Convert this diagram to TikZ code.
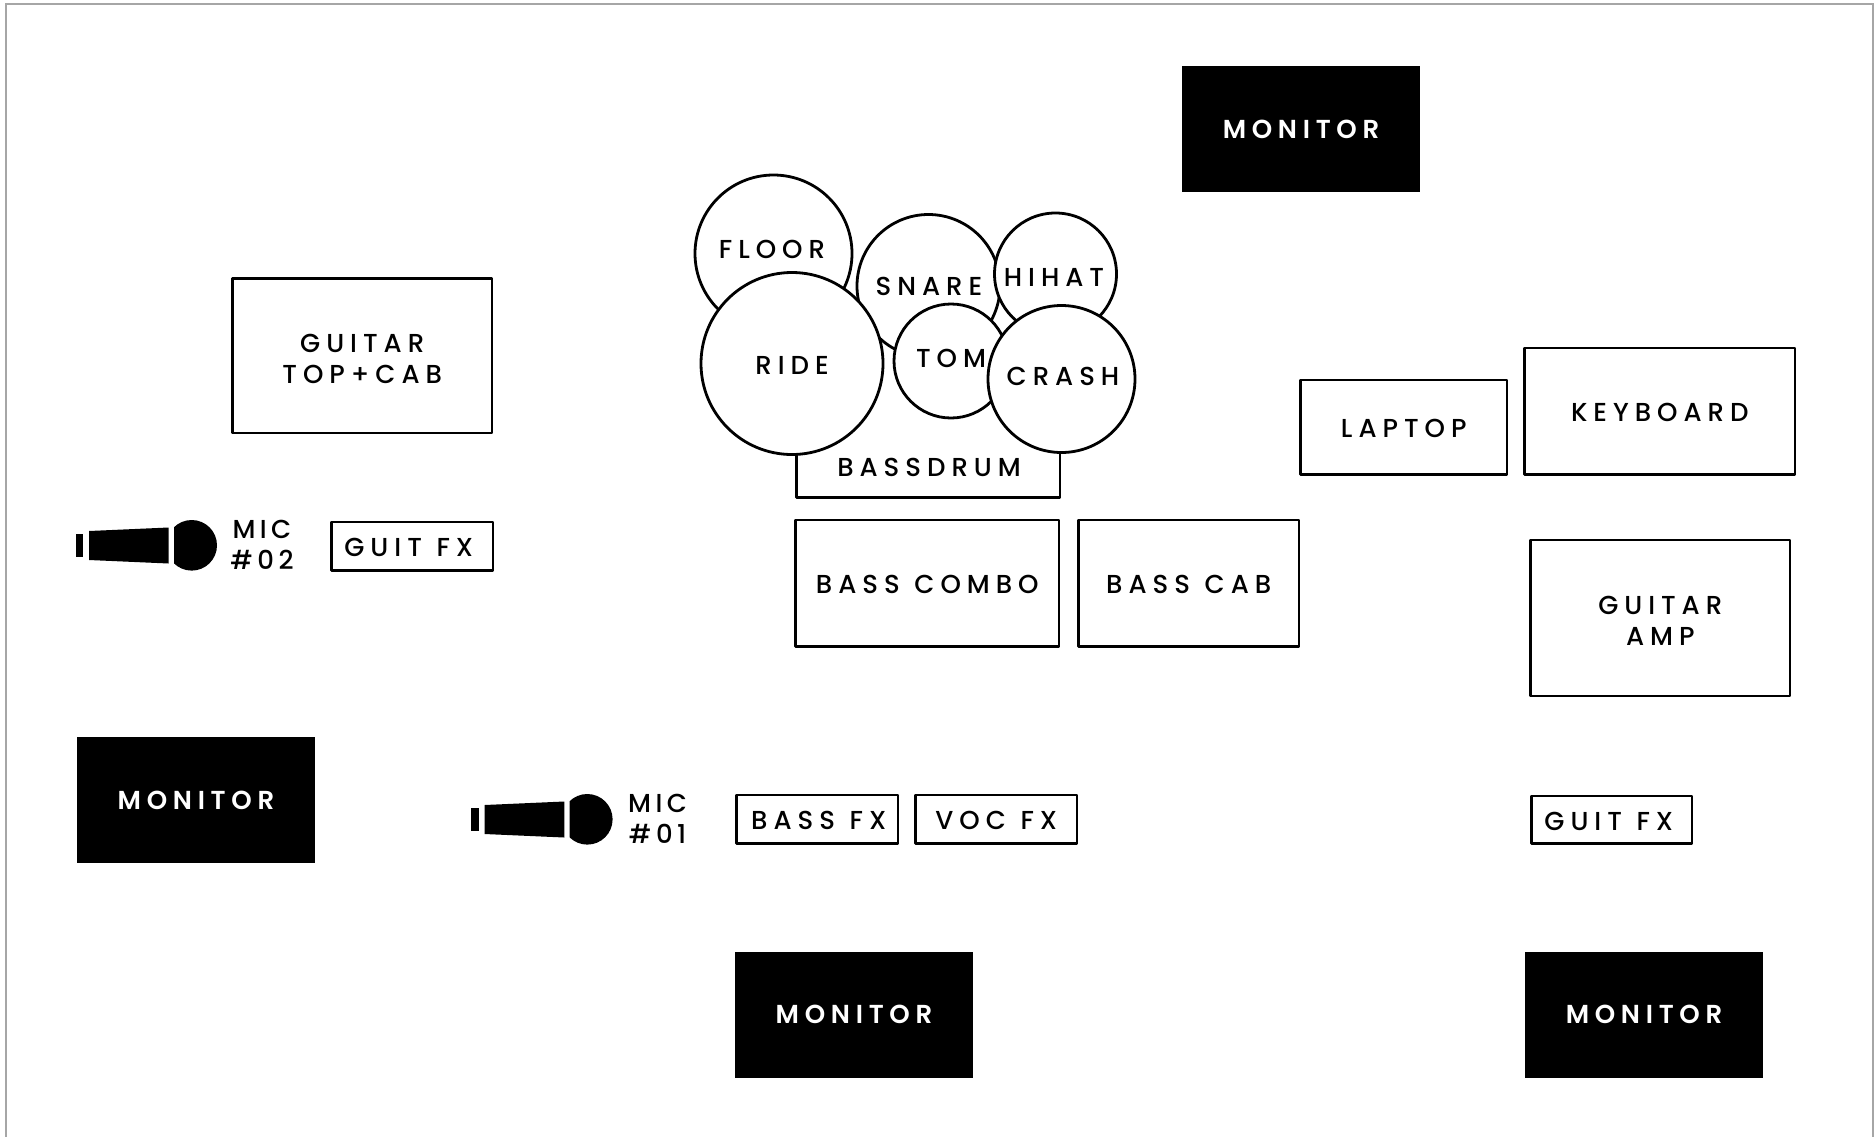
\documentclass[tikz,border=0pt]{standalone}
\usepackage{fontspec}
\setmainfont{Poppins Medium}[LetterSpace=23,WordSpace=1.15,BoldFont={Poppins SemiBold},BoldFeatures={LetterSpace=22}]
\tikzset{
  box/.style={draw=black,line width=2.8pt,line join=round,fill=white,anchor=north west,inner sep=0pt,outer sep=0pt},
  monitor/.style={fill=black,text=white,anchor=north west,inner sep=0pt,outer sep=0pt,minimum width=238pt,minimum height=126pt,font=\fontsize{26}{31}\selectfont\bfseries},
  drum/.style={circle,draw=black,line width=2.8pt,fill=white,inner sep=0pt,outer sep=0pt},
  lbl/.style={inner sep=0pt,outer sep=0pt,align=center,font=\fontsize{26}{31}\selectfont},
  boxlbl/.style={lbl,yshift=-1.2pt},
  twolbl/.style={lbl,yshift=-2.8pt},
  miclbl/.style={lbl,font=\fontsize{26}{31}\selectfont\addfontfeature{LetterSpace=17}},
  micicon/.pic={
    \fill[black] (75.7,534) rectangle (83.3,556.7);
    \fill[black] (89,531) -- (168.7,527.5) -- (168.7,563.5) -- (89,560) -- cycle;
    \begin{scope}
      \clip (174,510) rectangle (225,580);
      \fill[black] (191.7,545.3) circle[radius=25.3];
    \end{scope}
  }
}
\newcommand{\bx}[5]{\node[box,minimum width=#3pt-#1pt-0.5pt,minimum height=#4pt-#2pt] (#5) at (#1+0.5,#2) {};}
\begin{document}
\begin{tikzpicture}[x=1pt,y=-1pt]
\useasboundingbox (0,0) rectangle (1874,1136);
\draw[draw=black!35,line width=1.6pt] (6,1140) -- (6,4) -- (1873,4) -- (1873,1140);

\node[monitor] (montop) at (1182,66) {MONITOR};
\node[monitor] (monleft) at (77,737) {MONITOR};
\node[monitor,minimum height=126.5pt] (monbot) at (735,951.5) {MONITOR};
\node[monitor,minimum height=126.5pt] (monright) at (1525,951.5) {MONITOR};

\bx{232}{278.5}{492}{433}{guitartop}
\node[twolbl] (lguitartop) at (guitartop.center) {GUITAR\\TOP+CAB};
\bx{331}{522}{493}{570.5}{guitfxl}
\node[boxlbl,xshift=-3.5pt] (lguitfxl) at (guitfxl.center) {GUIT FX};
\bx{795}{520}{1059}{646.5}{basscombo}
\node[boxlbl] (lbasscombo) at (basscombo.center) {BASS COMBO};
\bx{1078}{520}{1299}{646.5}{basscab}
\node[boxlbl] (lbasscab) at (basscab.center) {BASS CAB};
\bx{1300}{380}{1507}{474.5}{laptop}
\node[boxlbl] (llaptop) at (laptop.center) {LAPTOP};
\bx{1524}{348}{1795}{474.5}{keyboard}
\node[boxlbl] (lkeyboard) at (keyboard.center) {KEYBOARD};
\bx{1530}{540}{1790}{696}{guitaramp}
\node[twolbl] (lguitaramp) at (guitaramp.center) {GUITAR\\AMP};
\bx{1531}{796}{1692}{843.5}{guitfxr}
\node[boxlbl,xshift=-3pt] (lguitfxr) at (guitfxr.center) {GUIT FX};
\bx{736}{795}{898}{843.5}{bassfx}
\node[boxlbl,xshift=1.5pt] (lbassfx) at (bassfx.center) {BASS FX};
\bx{915}{795}{1077}{843.5}{vocfx}
\node[boxlbl] (lvocfx) at (vocfx.center) {VOC FX};

\node[inner sep=0pt,outer sep=0pt,anchor=north west,minimum width=263.5pt,minimum height=52.5pt] (bassdrum) at (796.5,445) {};
\draw[line width=2.8pt,line join=round] (bassdrum.north west) -- (bassdrum.south west) -- (bassdrum.south east) -- (bassdrum.north east);
\node[lbl] (lbassdrum) at (929,467) {BASSDRUM};

\node[drum,minimum size=157pt] (floor) at (773.5,253.5) {};
\node[lbl] (lfloor) at (772,249) {FLOOR};
\node[drum,minimum size=143pt] (snare) at (928.5,286) {};
\node[lbl] (lsnare) at (929,286) {SNARE};
\node[drum,minimum size=122pt] (hihat) at (1055.5,274) {};
\node[lbl] (lhihat) at (1054,277) {HIHAT};
\node[drum,minimum size=114pt] (tom) at (951,361) {};
\node[lbl] (ltom) at (951,358) {TOM};
\node[drum,minimum size=182pt] (ride) at (792,363.5) {};
\node[lbl] (lride) at (792,365) {RIDE};
\node[drum,minimum size=147pt] (crash) at (1061.5,379) {};
\node[lbl] (lcrash) at (1063,376.5) {CRASH};

\pic (mictwo) at (0,0) {micicon};
\pic (micone) at (395.6,274) {micicon};
\node[miclbl] (lmictwo) at (262,545) {MIC\\\#02};
\node[miclbl] (lmicone) at (657.6,819) {MIC\\\#01};
\end{tikzpicture}
\end{document}
